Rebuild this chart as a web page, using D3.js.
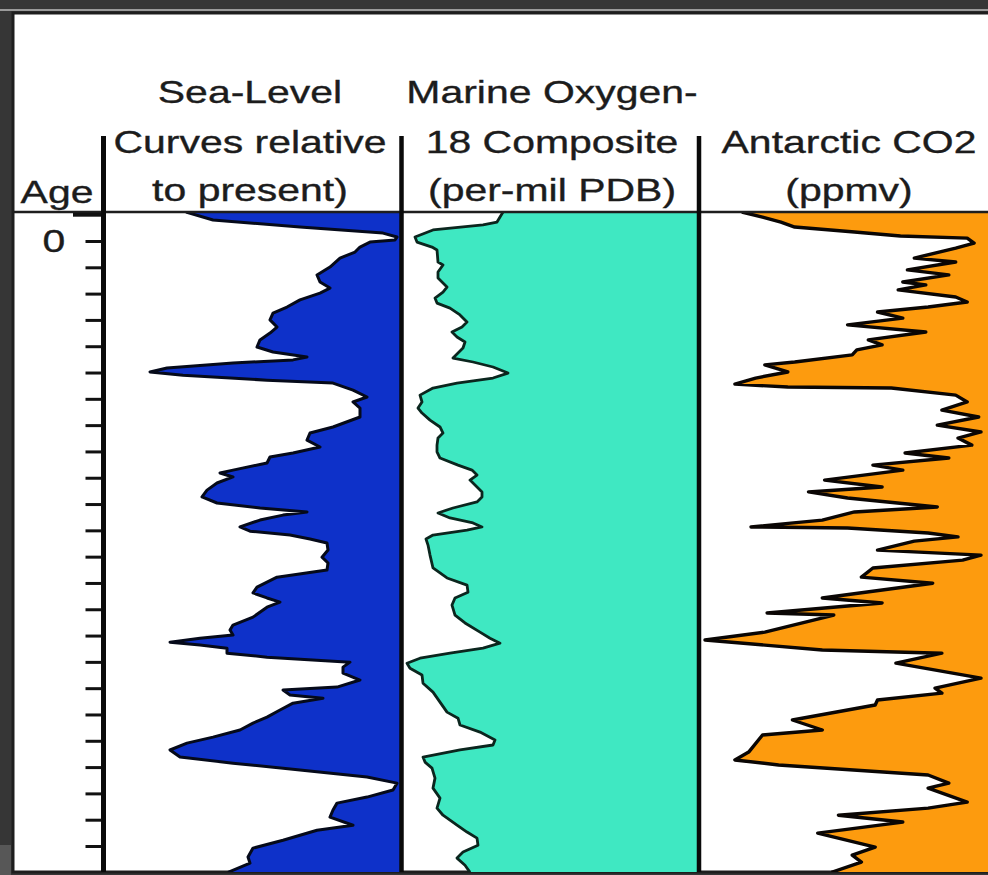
<!DOCTYPE html>
<html>
<head>
<meta charset="utf-8">
<script src="https://cdn.jsdelivr.net/npm/d3@7.9.0/dist/d3.min.js"></script>
<style>
  html, body { margin: 0; padding: 0; background: #363636; }
  svg { display: block; }
  text { font-family: "Liberation Sans", Arial, sans-serif; fill: #1c1c1c; stroke: #1c1c1c; stroke-width: 0.35px; }
</style>
</head>
<body>
<svg id="chart" width="988" height="875"></svg>
<script>
// ----- Data (age in kyr) -----
const ageTicks = d3.range(0, 231, 10);

const seaAge = [-11, -8, -5.3, -3, -1.5, -0.4, 0.4, 2.3, 4.2, 6.5, 9.9, 12.9, 15.6, 17.9, 19.8, 22.4, 25.1, 27.4, 30, 32.7,
  35, 37.6, 40.3, 42.2, 44.1, 45.2, 46.4, 48.3, 49.8, 51, 52.9, 54, 56.7, 59.3, 61.2, 63.5, 66.9, 70.7, 73, 75.7,
  78.3, 80.6, 82.1, 84.4, 87.1, 88.2, 89.7, 92, 94.7, 97.3, 99.6, 101.5, 103, 104.2, 106.1, 108.7, 110.3, 111.8, 113.3, 114.8,
  117.5, 120.2, 122.4, 125.1, 127.8, 131.6, 133.8, 135.7, 137.3, 139.2, 143, 146, 147.9, 149.8, 151, 152.5, 153.6, 154.8, 156.7, 158.2,
  160.1, 162, 164.3, 166.9, 169.6, 170.7, 172.6, 173.8, 175.7, 178.3, 181, 183.3, 185.9, 188.6, 190.9, 193.5, 196.2, 198.5, 201.1, 203.8,
  206.1, 208.7, 211.4, 213.7, 216.3, 219, 222.1, 224, 227.8, 230.8, 234.2, 236.5, 240];
const seaLevel = [-106, -92.5, -49, -7.5, -0.5, -1.5, -14, -19, -21.5, -29, -34, -40.5, -39, -34, -39, -49, -55.5, -62.5, -64, -60.5,
  -64, -69, -70.5, -62.5, -45.5, -52.5, -82.5, -115.5, -124, -107.5, -65.5, -32.5, -22.5, -15.5, -22.5, -19, -19, -32.5, -44, -45.5,
  -39, -52.5, -64, -65.5, -82.5, -89, -82.5, -90.5, -95.5, -98, -90.5, -69, -45.5, -57.5, -69, -79, -74, -54, -44, -35.5,
  -35, -38, -35, -35.5, -60.5, -70.5, -72.5, -65.5, -59, -65.5, -72.5, -82.5, -84, -82.5, -99, -114, -99, -85.5, -85.5, -65.5,
  -24, -27.5, -27.5, -19, -30.5, -57.5, -54, -37.5, -52.5, -59, -65.5, -72.5, -79, -92.5, -105.5, -114, -109, -82.5, -49, -15.5,
  -0.5, -2.5, -15.5, -30.5, -32.5, -34, -22.5, -40.5, -57.5, -72.5, -75, -74, -85];

const o18Age = [-11, -7.2, -6.1, -4.2, -1.5, 0.4, 2.3, 3.4, 8, 9.1, 11.8, 14.1, 17.5, 19.4, 21.7, 23.6, 25.5, 28.1, 30.8, 32.7,
  34.6, 36.5, 38.4, 40.7, 42.6, 44.5, 46, 47.9, 50.2, 52.1, 54, 55.9, 58.6, 61.2, 63.5, 65.4, 68.1, 70.7, 73, 74.9,
  77.6, 80.2, 82.5, 85.2, 87.1, 89, 90.9, 92.8, 95.4, 97.3, 99.2, 101.5, 103.4, 105.3, 107.2, 108.7, 109.9, 111.8, 113.3, 115.6,
  119.4, 124.3, 128.1, 130.8, 133.5, 135.7, 138.4, 142.2, 145.2, 148.7, 151, 152.9, 154.8, 156.7, 158.6, 160.5, 162.4, 165, 168.1, 171.5,
  175.3, 179.1, 181.4, 184, 186.7, 189.7, 191.6, 193.5, 196.2, 198.1, 200.4, 204.2, 208, 211.8, 215.6, 218.3, 222.1, 224.7, 227, 229.7,
  232.3, 234.6, 237.3, 240];
const o18Value = [4.98, 4.86, 4.58, 3.58, 3.22, 3.26, 3.56, 3.66, 3.68, 3.78, 3.68, 3.68, 3.86, 3.78, 3.62, 3.66, 3.92, 4.12, 4.26, 4.16,
  3.96, 4.06, 4.22, 4.18, 4.08, 3.98, 4.38, 4.78, 5.08, 4.78, 4.06, 3.58, 3.32, 3.36, 3.28, 3.36, 3.52, 3.72, 3.78, 3.68,
  3.66, 3.66, 3.72, 4.08, 4.36, 4.46, 4.32, 4.42, 4.56, 4.56, 4.46, 3.98, 3.68, 3.92, 4.38, 4.56, 4.26, 3.58, 3.44, 3.48,
  3.52, 3.58, 3.86, 4.26, 4.28, 4.02, 3.96, 4.02, 4.22, 4.52, 4.72, 4.92, 4.58, 3.92, 3.32, 3.06, 3.12, 3.36, 3.38, 3.58,
  3.72, 3.86, 4.08, 4.12, 4.52, 4.82, 4.78, 4.12, 3.38, 3.42, 3.56, 3.62, 3.58, 3.72, 3.66, 3.78, 4.06, 4.26, 4.46, 4.48,
  4.18, 4.06, 4.22, 4.32];

const co2Age = [-11, -9.1, -7.2, -5.3, -3.4, -1.9, -1.1, 0.8, 2.7, 6.5, 8, 11, 12.9, 15.6, 16.7, 18.6, 21.3, 23.2, 25.1, 27,
  29.3, 31.9, 34.6, 37.6, 39.5, 41.4, 43.3, 46, 47.1, 49.8, 52.1, 54.4, 55.5, 55.9, 58.6, 61.2, 64.3, 66.9, 70, 72.6,
  74.9, 77.6, 80.6, 82.5, 85.2, 87.1, 90.9, 93.5, 95.4, 97.7, 101.1, 103, 106.1, 108.7, 109.1, 111, 112.5, 114.1, 117.5, 119.4,
  121.3, 124.3, 127.8, 130.1, 135.7, 137.6, 141.4, 142.2, 148.7, 151.7, 155.5, 156.7, 160.5, 166.2, 170, 171.9, 174.5, 176.4, 182.1, 185.9,
  187.8, 194.3, 197.3, 199.2, 203, 206.1, 208, 213.3, 215.6, 218.3, 220.9, 225.1, 230.4, 233.5, 236.1, 240];
const co2Value = [196, 205, 213, 219, 245, 265, 294, 297, 289, 271, 289, 268, 286, 266, 276, 264, 289, 294, 277, 255,
  266, 242, 276, 251, 257, 246, 244, 219, 206, 216, 202, 193, 216, 261, 289, 294, 283, 299, 281, 300,
  290, 296, 267, 286, 253, 266, 232, 257, 225, 242, 281, 245, 231, 200, 242, 277, 290, 271, 255, 300,
  292, 253, 248, 279, 231, 257, 207, 236, 206, 180, 231, 283, 263, 300, 280, 283, 255, 254, 218, 231,
  205, 199, 193, 212, 277, 286, 277, 294, 277, 238, 266, 229, 254, 244, 248, 235];

const titles = [
  ["Sea-Level", "Curves relative", "to present)"],
  ["Marine Oxygen-", "18 Composite", "(per-mil PDB)"],
  ["Antarctic CO2", "(ppmv)"]
];

// ----- Layout -----
const svg = d3.select("#chart");
const panel = { left: 13, top: 13, right: 990, bottom: 872 };
const headerY = 212;
const axisX = 103.5;
const cols = [[106, 400], [404, 697], [701, 990]];

const y = d3.scaleLinear().domain([0, 230]).range([241, 846]);
const xSea = d3.scaleLinear().domain([-146, 0]).range([106, 398]);
const xO18 = d3.scaleLinear().domain([3, 5]).range([404, 504]);
const xCO2 = d3.scaleLinear().domain([180, 300]).range([705, 981]);

// background bits around the white panel
svg.append("rect").attr("x", 0).attr("y", 845).attr("width", 11).attr("height", 30).attr("fill", "#575757");
svg.append("line").attr("x1", 0).attr("x2", 988).attr("y1", 10).attr("y2", 10)
  .attr("stroke", "#9a9a9a").attr("stroke-width", 2);
svg.append("rect")
  .attr("x", panel.left).attr("y", panel.top)
  .attr("width", panel.right - panel.left).attr("height", panel.bottom - panel.top)
  .attr("fill", "#fff").attr("stroke", "#1e1e1e").attr("stroke-width", 3);

// clip per column
const defs = svg.append("defs");
cols.forEach((c, i) => {
  defs.append("clipPath").attr("id", "clip" + i)
    .append("rect").attr("x", c[0]).attr("y", headerY)
    .attr("width", c[1] - c[0]).attr("height", panel.bottom - headerY);
});

function drawSeries(i, ages, vals, xScale, fill, stroke, strokeW) {
  const data = ages.map((a, k) => ({ age: a, v: vals[k] }));
  const right = cols[i][1];
  const g = svg.append("g").attr("clip-path", `url(#clip${i})`);
  g.append("path").datum(data)
    .attr("fill", fill)
    .attr("d", d3.area().y(d => y(d.age)).x0(right).x1(d => xScale(d.v)));
  g.append("path").datum(data)
    .attr("fill", "none").attr("stroke", stroke).attr("stroke-width", strokeW)
    .attr("stroke-linejoin", "round")
    .attr("d", d3.line().y(d => y(d.age)).x(d => xScale(d.v)));
}

drawSeries(0, seaAge, seaLevel, xSea, "#0e31c9", "#050a1a", 3);
drawSeries(1, o18Age, o18Value, xO18, "#3fe8c2", "#0b261e", 2.8);
drawSeries(2, co2Age, co2Value, xCO2, "#fd9b0e", "#0a0604", 3.4);

// header rule
svg.append("line").attr("x1", panel.left).attr("x2", panel.right)
  .attr("y1", headerY).attr("y2", headerY)
  .attr("stroke", "#1e1e1e").attr("stroke-width", 2.5);
svg.append("line").attr("x1", 73).attr("x2", axisX)
  .attr("y1", y(-10)).attr("y2", y(-10))
  .attr("stroke", "#111").attr("stroke-width", 4);

// column dividers + age axis line
[axisX, 401.5, 699].forEach(xv => {
  svg.append("line").attr("x1", xv).attr("x2", xv)
    .attr("y1", 136).attr("y2", panel.bottom)
    .attr("stroke", "#0a0a0a").attr("stroke-width", xv === axisX ? 5 : 4.5);
});

// age ticks
const axis = svg.append("g")
  .attr("transform", `translate(${axisX - 2},0)`)
  .call(d3.axisLeft(y).tickValues(ageTicks).tickSize(16).tickFormat(d => d === 0 ? "0" : ""));
axis.select(".domain").remove();
axis.selectAll(".tick line").attr("stroke", "#111").attr("stroke-width", 3);
axis.selectAll(".tick text")
  .attr("x", 0).attr("dy", "0.34em")
  .attr("text-anchor", "middle")
  .attr("font-size", 32)
  .attr("fill", "#1c1c1c")
  .attr("font-family", "Liberation Sans, Arial, sans-serif")
  .attr("transform", `translate(${54 - (axisX - 2)},0) scale(1.28,1)`);

// titles
const baselines = [103, 153, 201];
const centers = [250, 552, 849];
function label(txt, cx, by) {
  svg.append("text")
    .attr("transform", `translate(${cx},${by}) scale(1.28,1)`)
    .attr("text-anchor", "middle").attr("font-size", 32)
    .text(txt);
}
label("Age", 57, 203);
titles.forEach((lines, i) => {
  const start = baselines.length - lines.length;
  lines.forEach((t, k) => label(t, centers[i], baselines[start + k]));
});
</script>
</body>
</html>
